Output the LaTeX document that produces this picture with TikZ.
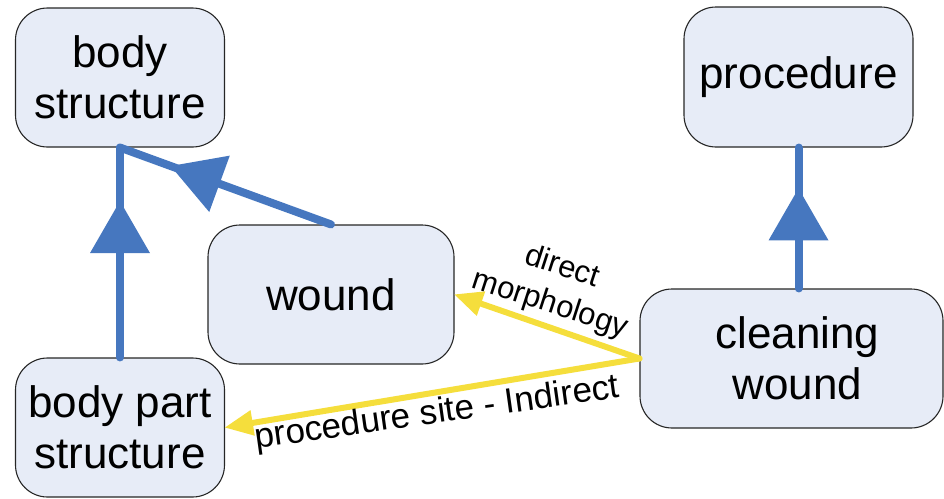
\documentclass[tikz,border=0pt]{standalone}
\usepackage{fontspec}
\setmainfont{Liberation Sans}
\usetikzlibrary{arrows.meta,decorations.markings}
\definecolor{boxfill}{RGB}{231,236,247}
\definecolor{relblue}{RGB}{70,119,191}
\definecolor{relyellow}{RGB}{245,222,60}
\tikzset{
  concept/.style={draw=black!85, line width=1.1pt, fill=boxfill, rounded corners=32pt,
    align=center, inner sep=0pt, font=\fontsize{44}{51}\selectfont},
  isa/.style={draw=relblue, line width=8pt, line cap=round, postaction={decorate},
    decoration={markings, mark=at position #1 with {\arrow[relblue]{Triangle[width=60pt,length=52pt,line width=0pt]}}}},
  rel/.style={draw=relyellow, line width=6pt, line cap=round,
    -{Triangle[width=26pt,length=28pt,line width=0pt]}},
  lab/.style={align=center, inner sep=0pt}
}
\begin{document}
\begin{tikzpicture}[x=1pt,y=-1pt]
\useasboundingbox (0,0) rectangle (944,498);
\node[concept, minimum width=209pt, minimum height=139pt] (bs) at (120,77.5) {body\\structure};
\node[concept, minimum width=229pt, minimum height=140pt] (proc) at (798.5,77) {procedure};
\node[concept, minimum width=246pt, minimum height=139pt] (wound) at (331,294.5) {wound};
\node[concept, minimum width=303pt, minimum height=139pt] (cw) at (791.5,358.5) {\hspace*{12pt}cleaning\\\hspace*{12pt}wound};
\node[concept, minimum width=209pt, minimum height=139pt] (bps) at (120,427.5) {body part\\structure};
\coordinate (cwtop) at (proc.south |- cw.north);
\draw[isa=0.745] (bps.north) -- (bs.south);
\draw[isa=0.76] (wound.north) -- (bs.south);
\draw[isa=0.71] (cwtop) -- (proc.south);
\draw[rel] (cw.west) -- (wound.east);
\draw[rel] (cw.west) -- (bps.east);
\node[lab, rotate=-18, font=\fontsize{31}{39}\selectfont] (dm) at (556,286) {direct\\morphology};
\node[lab, rotate=8, font=\fontsize{35}{40}\selectfont] (ps) at (437,414) {procedure site - Indirect};
\end{tikzpicture}
\end{document}
